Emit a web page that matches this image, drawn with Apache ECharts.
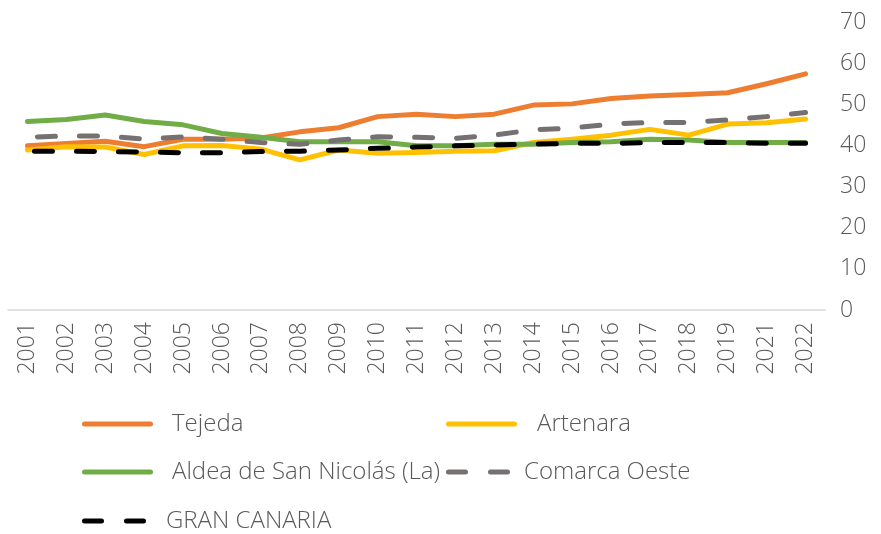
<!DOCTYPE html>
<html>
<head>
<meta charset="utf-8">
<script src="https://cdn.jsdelivr.net/npm/echarts@6/dist/echarts.min.js"></script>
<style>
  html, body { margin: 0; padding: 0; background: #fff; }
  #chart { width: 881px; height: 534px; }
</style>
</head>
<body>
<div id="chart"></div>
<script>
// years on the x axis (2020 missing in the source)
var years = ['2001','2002','2003','2004','2005','2006','2007','2008','2009','2010',
             '2011','2012','2013','2014','2015','2016','2017','2018','2019','2021','2022'];

var tejeda   = [39.9,40.5,41.0,39.7,41.5,41.5,41.8,43.3,44.3,47.0,47.6,47.0,47.6,49.8,50.1,51.4,52.0,52.4,52.8,55.0,57.4];
var artenara = [38.9,39.7,39.6,37.8,39.9,40.0,39.1,36.5,38.9,38.1,38.3,38.6,38.7,40.7,41.5,42.5,43.9,42.5,45.2,45.5,46.4];
var aldea    = [45.8,46.3,47.4,45.8,45.0,42.9,42.0,40.9,40.9,40.9,39.9,39.9,40.3,40.3,40.7,40.9,41.5,41.3,40.7,40.7,40.7];
var comarca  = [42.0,42.3,42.3,41.5,42.1,41.5,40.7,40.3,41.3,42.1,42.0,41.7,42.5,43.8,44.2,45.2,45.6,45.6,46.2,47.0,48.0];
var granCan  = [38.6,38.6,38.5,38.4,38.2,38.2,38.5,38.6,38.9,39.3,39.6,39.9,40.1,40.3,40.5,40.5,40.7,40.7,40.7,40.5,40.5];

var FONT = '"Open Sans", "DejaVu Sans", sans-serif';
var TXT = '#595959';
var DASH = [18, 24];

// legend icons: a rounded bar, or two rounded dashes
var ICON_SOLID = 'path://M2.5,0 h66 a2.5,2.5 0 0 1 0,5 h-66 a2.5,2.5 0 0 1 0,-5 Z';
var ICON_DASH = 'path://M2.5,0 h17 a2.5,2.5 0 0 1 0,5 h-17 a2.5,2.5 0 0 1 0,-5 Z M44.5,0 h17 a2.5,2.5 0 0 1 0,5 h-17 a2.5,2.5 0 0 1 0,-5 Z';

function mkSeries(name, data, color, dashed, offset) {
    return {
        name: name,
        type: 'line',
        data: data,
        symbol: 'none',
        smooth: false,
        itemStyle: { color: color },
        lineStyle: {
            color: color,
            width: 5,
            type: dashed ? DASH : 'solid',
            dashOffset: dashed ? offset : 0,
            cap: 'round',
            join: 'round'
        }
    };
}

// one legend per item so the two-column layout can be placed by hand
function mkLegend(name, left, top, pad, dashed) {
    return {
        data: [name],
        left: left,
        top: top,
        icon: dashed ? ICON_DASH : ICON_SOLID,
        itemWidth: dashed ? 64 : 71,
        itemHeight: 5,
        itemGap: 0,
        padding: 0,
        textStyle: { fontFamily: FONT, fontWeight: 300, fontSize: 24, color: TXT, padding: [0, 0, 0, pad] },
        selectedMode: false
    };
}

var myChart = echarts.init(document.getElementById('chart'));

var option = {
    backgroundColor: '#fff',
    animation: false,
    grid: { left: 8, right: 56, top: 22, bottom: 224, containLabel: false },
    legend: [
        mkLegend('Tejeda', 82, 412, 14, false),
        mkLegend('Artenara', 446, 412, 15, false),
        mkLegend('Aldea de San Nicolás (La)', 82, 460, 14, false),
        mkLegend('Comarca Oeste', 446, 460, 9, true),
        mkLegend('GRAN CANARIA', 82, 509, 15, true)
    ],
    xAxis: {
        type: 'category',
        data: years,
        boundaryGap: true,
        axisLine: { show: true, lineStyle: { color: '#d9d9d9', width: 1.5 } },
        axisTick: { show: false },
        axisLabel: {
            rotate: 90,
            interval: 0,
            margin: 12,
            fontFamily: FONT,
            fontWeight: 300,
            fontSize: 23,
            color: TXT
        }
    },
    yAxis: {
        type: 'value',
        position: 'right',
        min: 0,
        max: 70,
        interval: 10,
        axisLine: { show: false },
        axisTick: { show: false },
        splitLine: { show: false },
        axisLabel: {
            margin: 15,
            fontFamily: FONT,
            fontWeight: 300,
            fontSize: 23,
            color: TXT
        }
    },
    series: [
        mkSeries('Tejeda', tejeda, '#ed7d31', false),
        mkSeries('Artenara', artenara, '#ffc000', false),
        mkSeries('Aldea de San Nicolás (La)', aldea, '#70ad47', false),
        mkSeries('Comarca Oeste', comarca, '#767171', true, -10),
        mkSeries('GRAN CANARIA', granCan, '#000000', true, -7)
    ]
};
myChart.setOption(option, true);
</script>
</body>
</html>
